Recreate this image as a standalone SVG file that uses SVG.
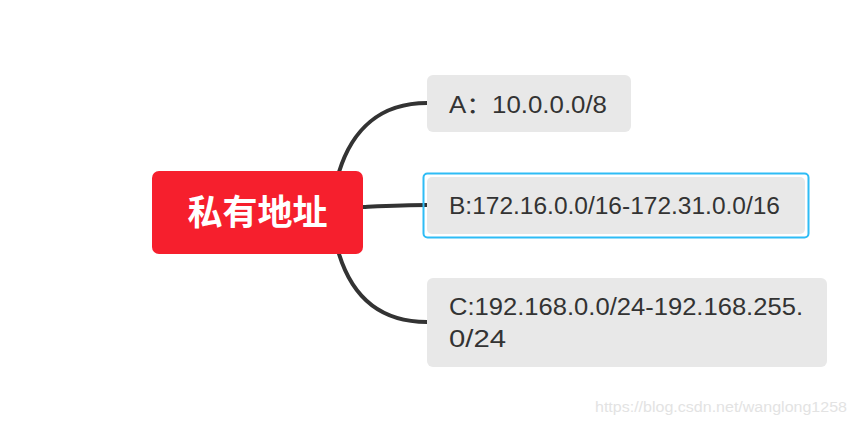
<svg xmlns="http://www.w3.org/2000/svg" width="857" height="423" viewBox="0 0 857 423">
<style>
.conn{fill:none;stroke:#333333;stroke-width:4;stroke-linecap:round}
.box{fill:#e8e8e8}
.lbl{font-family:"Liberation Sans","Noto Sans CJK SC",sans-serif;font-size:23px;fill:#333333}
.root{font-family:"Noto Sans CJK SC",sans-serif;font-size:35px;font-weight:bold;fill:#ffffff}
.wm{font-family:"Liberation Sans",Arial,sans-serif;font-size:14px;fill:#e3e3e3}
</style>
<rect width="857" height="423" fill="#ffffff"/>
<g id="connectors">
<path class="conn" d="M339,172 C352,130 380,103 427,103"/>
<path class="conn" d="M363,207 C385,206 405,205 427,205"/>
<path class="conn" d="M339,254 C352,296 380,322 427,322"/>
</g>
<g id="root">
<rect x="152" y="171" width="211" height="83" rx="7" fill="#f61f2d"/>
<text class="root" x="257.5" y="225" text-anchor="middle">私有地址</text>
</g>
<g id="nodeA">
<rect class="box" x="427" y="75" width="204" height="57" rx="6"/>
<text class="lbl" x="449" y="113" textLength="158" lengthAdjust="spacingAndGlyphs">A：10.0.0.0/8</text>
</g>
<g id="nodeB">
<rect x="423.5" y="173.5" width="385" height="64" rx="4" fill="none" stroke="#2ebcf5" stroke-width="2"/>
<rect class="box" x="427" y="177" width="378" height="57" rx="5"/>
<text class="lbl" x="449" y="214" textLength="331" lengthAdjust="spacingAndGlyphs">B:172.16.0.0/16-172.31.0.0/16</text>
</g>
<g id="nodeC">
<rect class="box" x="427" y="278" width="400" height="89" rx="6"/>
<text class="lbl" x="449" y="315" textLength="354" lengthAdjust="spacingAndGlyphs">C:192.168.0.0/24-192.168.255.</text>
<text class="lbl" x="449" y="347" textLength="57" lengthAdjust="spacingAndGlyphs">0/24</text>
</g>
<text class="wm" x="595" y="412" textLength="252" lengthAdjust="spacingAndGlyphs">https://blog.csdn.net/wanglong1258</text>
</svg>
